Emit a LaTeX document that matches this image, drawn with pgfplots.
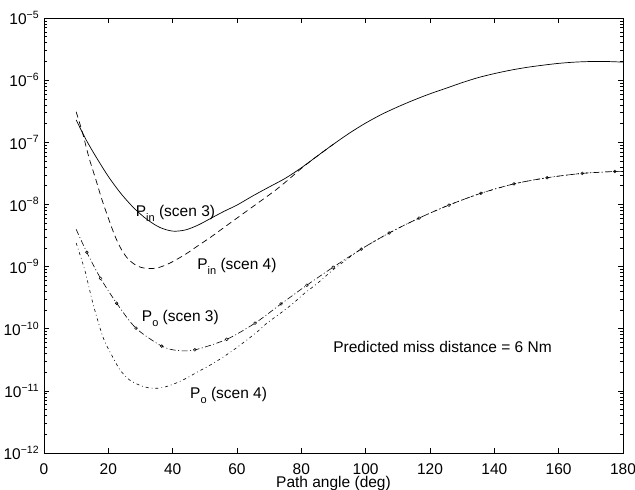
\documentclass[border=0pt]{standalone}
\usepackage{fontspec}
\setmainfont{Liberation Sans}
\usepackage{pgfplots}
\pgfplotsset{compat=1.18}
\newcommand\mysup[1]{\raisebox{0.42em}{\fontsize{10.5bp}{10bp}\selectfont #1}}
\newcommand\mysub[1]{\raisebox{-0.33em}{\fontsize{11bp}{11bp}\selectfont #1}}
\begin{document}
\fontsize{15.5bp}{18bp}\selectfont
\begin{tikzpicture}
\useasboundingbox (-44bp,-37bp) rectangle (591bp,453bp);
\begin{axis}[at={(0,0)}, anchor=south west, scale only axis,
  width=579bp, height=435bp,
  xmin=0, xmax=180, ymode=log, ymin=1e-12, ymax=1e-5,
  xtick={0,20,...,180},
  ytick={1e-12,1e-11,1e-10,1e-9,1e-8,1e-7,1e-6,1e-5},
  yticklabels={10\mysup{−12},10\mysup{−11},10\mysup{−10},10\mysup{−9},10\mysup{−8},10\mysup{−7},10\mysup{−6},10\mysup{−5}},
  /pgf/number format/assume math mode=true,
  tick align=inside, major tick length=5bp, minor tick length=3bp,
  axis line style={line width=0.8bp},
  every tick/.style={black, line width=0.5bp},
  xlabel={Path angle (deg)},
  xlabel style={at={(axis description cs:0.5,0)}, anchor=base, yshift=-34.5bp, inner sep=0.5bp},
  xticklabel style={anchor=base, yshift=-21.5bp, inner sep=0.5bp},
  clip=false,
]
% P_in (scen 3) solid
\addplot[black, line width=0.7bp, smooth] coordinates {
(10,2.29e-7) (13,1.12e-7) (16,6.03e-8) (20,2.82e-8) (24,1.48e-8) (28,8.71e-9)
(32,5.75e-9) (36,4.27e-9) (40,3.72e-9) (44,3.89e-9) (48,4.68e-9) (52,6.03e-9)
(56,7.76e-9) (60,9.77e-9) (65,1.38e-8) (70,1.91e-8) (75,2.63e-8) (80,3.89e-8)
(85,6.03e-8) (90,9.33e-8) (95,1.41e-7) (100,2.04e-7) (105,2.82e-7) (110,3.72e-7)
(115,4.79e-7) (120,6.03e-7) (125,7.41e-7) (130,9.12e-7) (135,1.10e-6) (140,1.274e-6)
(145,1.445e-6) (150,1.603e-6) (155,1.738e-6) (160,1.862e-6) (165,1.950e-6) (170,1.995e-6)
(175,1.995e-6) (180,1.95e-6)};
% P_in (scen 4) dashed
\addplot[black, line width=0.7bp, smooth, dash pattern=on 6bp off 4bp] coordinates {
(10,3.09e-7) (12,1.41e-7) (14,5.62e-8) (16,2.63e-8) (18,1.20e-8) (20,6.03e-9)
(22,3.16e-9) (24,1.91e-9) (26,1.35e-9) (28,1.10e-9) (30,9.77e-10) (32,9.33e-10)
(34,9.33e-10) (36,9.77e-10) (38,1.07e-9) (40,1.20e-9) (44,1.58e-9) (48,2.19e-9)
(52,3.02e-9) (56,4.27e-9) (60,6.03e-9) (64,8.51e-9) (68,1.20e-8) (72,1.70e-8)
(76,2.51e-8) (80,3.80e-8) (85,6.03e-8) (90,9.33e-8)};
% P_o (scen 3) dash-dot
\addplot[black, line width=0.6bp, smooth, dash pattern=on 6bp off 2.5bp on 1bp off 2.5bp] coordinates {
(10,3.98e-9) (13.3,1.70e-9) (17.6,6.46e-10) (22.6,2.57e-10) (28.6,1.02e-10)
(36.6,5.25e-11) (41.5,4.47e-11) (46.9,4.57e-11) (56.8,6.76e-11) (65.6,1.23e-10)
(73.7,2.51e-10) (81.7,5.01e-10) (89.9,9.77e-10) (98.6,1.91e-9) (107.3,3.47e-9)
(116.6,6.03e-9) (125.9,9.77e-9) (135.8,1.51e-8) (146.1,2.14e-8) (156.4,2.69e-8)
(167.3,3.16e-8) (177.5,3.39e-8) (180,3.39e-8)};
\addplot[black, only marks, mark=o, mark size=1.4bp, mark options={line width=0.5bp}] coordinates {
(13.3,1.70e-9) (17.6,6.46e-10) (22.6,2.57e-10) (28.6,1.02e-10)
(36.6,5.25e-11) (46.9,4.57e-11) (56.8,6.76e-11) (65.6,1.23e-10)
(73.7,2.51e-10) (81.7,5.01e-10) (89.9,9.77e-10) (98.6,1.91e-9) (107.3,3.47e-9)
(116.6,6.03e-9) (125.9,9.77e-9) (135.8,1.51e-8) (146.1,2.14e-8) (156.4,2.69e-8)
(167.3,3.16e-8) (177.5,3.39e-8)};
% P_o (scen 4) dash-dot (short)
\addplot[black, line width=0.6bp, smooth, dash pattern=on 3bp off 3bp on 0.8bp off 3bp] coordinates {
(10,2.40e-9) (12.7,8.71e-10) (15.2,2.57e-10) (18.3,7.41e-11) (21,3.80e-11)
(23.6,2.19e-11) (26.5,1.51e-11) (29.8,1.23e-11) (32.5,1.12e-11) (35.1,1.10e-11)
(38,1.17e-11) (41.3,1.35e-11) (44.5,1.62e-11) (47.6,2.00e-11) (51.5,2.57e-11)
(55.6,3.47e-11) (59.5,4.79e-11) (63.1,6.61e-11) (66.5,9.12e-11) (69.3,1.23e-10)
(73,1.70e-10) (77,2.45e-10) (81,3.72e-10) (85,5.37e-10) (89.9,8.91e-10)
(95,1.41e-9) (98.6,1.91e-9) (107.3,3.47e-9) (116.6,6.03e-9) (125.9,9.77e-9) (135.8,1.51e-8)
(146.1,2.14e-8) (156.4,2.69e-8) (167.3,3.16e-8) (177.5,3.39e-8) (180,3.39e-8)};
\node[anchor=base west, inner sep=0pt] at (axis cs:28.5,6.31e-9) {P\mysub{in} (scen 3)};
\node[anchor=base west, inner sep=0pt] at (axis cs:47.6,9.12e-10) {P\mysub{in} (scen 4)};
\node[anchor=base west, inner sep=0pt] at (axis cs:30.4,1.29e-10) {P\mysub{o} (scen 3)};
\node[anchor=base west, inner sep=0pt] at (axis cs:45.4,7.59e-12) {P\mysub{o} (scen 4)};
\node[anchor=base west, inner sep=0pt] at (axis cs:89.9,4.07e-11) {Predicted miss distance = 6 Nm};
\end{axis}
\end{tikzpicture}
\end{document}
